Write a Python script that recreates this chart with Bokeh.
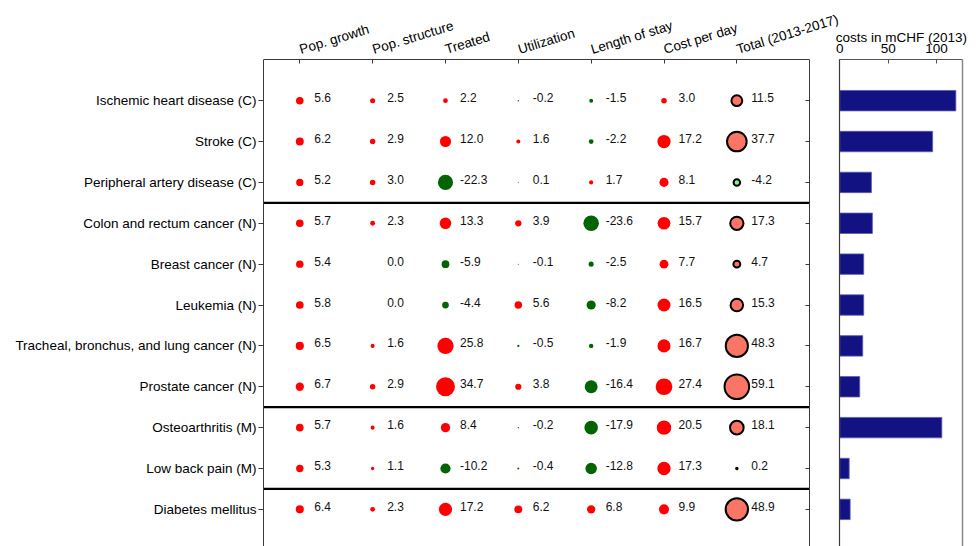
import math
import numpy as np
from bokeh.plotting import figure
from bokeh.models import ColumnDataSource, Range1d, LinearAxis, FixedTicker
from bokeh.core.properties import value
from bokeh.embed import file_html
from bokeh.resources import INLINE

# ---------------- data ----------------
categories = [
    "Ischemic heart disease (C)",
    "Stroke (C)",
    "Peripheral artery disease (C)",
    "Colon and rectum cancer (N)",
    "Breast cancer (N)",
    "Leukemia (N)",
    "Tracheal, bronchus, and lung cancer (N)",
    "Prostate cancer (N)",
    "Osteoarthritis (M)",
    "Low back pain (M)",
    "Diabetes mellitus",
]
group_sizes = [3, 5, 2, 1]

columns = ["Pop. growth", "Pop. structure", "Treated", "Utilization",
           "Length of stay", "Cost per day", "Total (2013-2017)"]

pop_growth = [5.6, 6.2, 5.2, 5.7, 5.4, 5.8, 6.5, 6.7, 5.7, 5.3, 6.4]
pop_structure = [2.5, 2.9, 3.0, 2.3, 0.0, 0.0, 1.6, 2.9, 1.6, 1.1, 2.3]
treated = [2.2, 12.0, -22.3, 13.3, -5.9, -4.4, 25.8, 34.7, 8.4, -10.2, 17.2]
utilization = [-0.2, 1.6, 0.1, 3.9, -0.1, 5.6, -0.5, 3.8, -0.2, -0.4, 6.2]
length_of_stay = [-1.5, -2.2, 1.7, -23.6, -2.5, -8.2, -1.9, -16.4, -17.9, -12.8, 6.8]
cost_per_day = [3.0, 17.2, 8.1, 15.7, 7.7, 16.5, 16.7, 27.4, 20.5, 17.3, 9.9]
total = [11.5, 37.7, -4.2, 17.3, 4.7, 15.3, 48.3, 59.1, 18.1, 0.2, 48.9]

costs_2013 = [120, 96, 32.7, 33.7, 24.7, 24.7, 23.7, 20.6, 105.5, 9.7, 10.7]
cost_ticks = [0, 50, 100]
cost_axis_title = "costs in mCHF (2013)"

component_series = [pop_growth, pop_structure, treated, utilization,
                    length_of_stay, cost_per_day]

# ---------------- style / geometry (canvas pixels) ----------------
FONT = "Liberation Sans"
fig_w = 971
fig_h = 546
frame_left = 263
frame_w = fig_w - frame_left
px_col = 72.84
px_row = 40.87
box_top_px = 59.3
box_right_px = 809.0
bar_left_px = 839.3
bar_right_px = 962.3
bar_max = 127.2

x_start = -(299.3 - frame_left) / px_col
x_end = x_start + frame_w / px_col
box_right = x_start + (box_right_px - frame_left) / px_col
bar_unit = (bar_right_px - bar_left_px) / bar_max
bar_start = -(bar_left_px - frame_left) / bar_unit
bar_end = bar_start + frame_w / bar_unit
y_box_top = -1.0
y_view_top = y_box_top - box_top_px / px_row
y_view_bottom = y_view_top + fig_h / px_row
y_title = y_view_top + 37.0 / px_row
size_k = 3.2
BOX = "#3a3a3a"
vbounds = (y_box_top, y_view_bottom)

n = len(categories)
rows = list(range(n))

p = figure(width=fig_w, height=fig_h, title=None,
           x_range=Range1d(x_start, x_end), y_range=Range1d(y_view_bottom, y_view_top),
           x_axis_location=None, y_axis_location=None,
           output_backend="svg", toolbar_location=None, tools="",
           min_border_left=frame_left, min_border_right=0,
           min_border_top=0, min_border_bottom=0,
           outline_line_color=None,
           background_fill_color="white", border_fill_color="white")
p.grid.visible = False
p.extra_x_ranges = {"bar": Range1d(bar_start, bar_end)}

# left axis with category names
yax = LinearAxis(ticker=FixedTicker(ticks=rows), bounds=vbounds,
                 major_label_overrides={i: c for i, c in enumerate(categories)},
                 major_label_text_font=FONT, major_label_text_font_size="13.5px",
                 major_label_text_color="black", major_label_standoff=2,
                 major_tick_out=5, major_tick_in=0, minor_tick_line_color=None,
                 axis_line_color=BOX, major_tick_line_color=BOX)
p.add_layout(yax, "left")

# top edge of main box: inward ticks, rotated column headers
tax = LinearAxis(ticker=FixedTicker(ticks=list(range(len(columns)))),
                 fixed_location=y_box_top, bounds=(x_start, box_right),
                 major_label_overrides={i: c for i, c in enumerate(columns)},
                 major_label_orientation=math.radians(17),
                 major_label_text_font=FONT, major_label_text_font_size="13.5px",
                 major_label_text_color="black", major_label_standoff=10,
                 major_tick_in=4, major_tick_out=0, minor_tick_line_color=None,
                 axis_line_color=BOX, major_tick_line_color=BOX)
p.add_layout(tax, "above")

# top edge of bar panel with its scale
bax = LinearAxis(x_range_name="bar", ticker=FixedTicker(ticks=cost_ticks),
                 fixed_location=y_box_top, bounds=(0, bar_max),
                 major_label_text_font=FONT, major_label_text_font_size="13.5px",
                 major_label_text_color="black", major_label_standoff=7,
                 major_tick_in=4, major_tick_out=0, minor_tick_line_color=None,
                 axis_line_color="#555555", major_tick_line_color="#555555")
p.add_layout(bax, "above")

# right edge of bar panel
rax = LinearAxis(x_range_name="bar", ticker=FixedTicker(ticks=[]),
                 fixed_location=bar_max, bounds=vbounds,
                 major_label_text_color=None,
                 major_label_standoff=0, major_tick_in=0, major_tick_out=0,
                 minor_tick_line_color=None, axis_line_color="#888888",
                 axis_line_width=1.5)
p.add_layout(rax, "right")

# right edge of main box, inward ticks
rax2 = LinearAxis(ticker=FixedTicker(ticks=rows), fixed_location=box_right,
                  bounds=vbounds, major_label_text_color=None, major_label_standoff=0,
                  major_tick_in=4, major_tick_out=0, minor_tick_line_color=None,
                  axis_line_color=BOX, major_tick_line_color=BOX)
p.add_layout(rax2, "right")

# left edge of bar panel
lbx = LinearAxis(x_range_name="bar", ticker=FixedTicker(ticks=[]), fixed_location=0,
                 bounds=vbounds, major_label_text_color=None, major_label_standoff=0,
                 major_tick_in=0, major_tick_out=0, minor_tick_line_color=None,
                 axis_line_color=BOX, axis_line_width=1.2)
p.add_layout(lbx, "left")

# title of the cost panel
p.text(x=[bar_max / 2], y=[y_title], text=[cost_axis_title], x_range_name="bar",
       text_align="center", text_baseline="alphabetic",
       text_font=value(FONT), text_font_size="13.5px", text_color="black")

# group separators
bounds_sep = list(np.cumsum(group_sizes)[:-1] - 0.5)
p.segment(x0=[x_start] * len(bounds_sep), x1=[box_right] * len(bounds_sep),
          y0=bounds_sep, y1=bounds_sep, line_color="black", line_width=2.2)

# component markers
xs, ys, sz, col = [], [], [], []
for ci, series in enumerate(component_series):
    for ri, v in enumerate(series):
        xs.append(ci)
        ys.append(ri)
        sz.append(size_k * math.sqrt(abs(v)))
        col.append("#ff0000" if v > 0 else "#006400")
p.scatter(x="x", y="y", size="s", fill_color="c", line_color=None,
          source=ColumnDataSource(dict(x=xs, y=ys, s=sz, c=col)))

# total markers
ti = len(columns) - 1
p.scatter(x=[ti] * n, y=rows, size=[size_k * math.sqrt(abs(v)) for v in total],
          fill_color=["#fa7565" if v > 0 else "#90ee90" for v in total],
          line_color="black", line_width=2)

# value labels
tx, ty, tt = [], [], []
for ci, series in enumerate(component_series + [total]):
    for ri, v in enumerate(series):
        tx.append(ci)
        ty.append(ri)
        tt.append(f"{v:.1f}")
p.text(x="x", y="y", text="t", source=ColumnDataSource(dict(x=tx, y=ty, t=tt)),
       x_offset=14.5, y_offset=-3, text_align="left", text_baseline="middle",
       text_font=value(FONT), text_font_size="12px", text_color="#111111")

# bars
p.hbar(y=rows, left=0, right=costs_2013, height=0.5, x_range_name="bar",
       fill_color="#121282", line_color="#5a5ab5", line_width=0.8)

open("out.html", "w").write(file_html(p, INLINE))
